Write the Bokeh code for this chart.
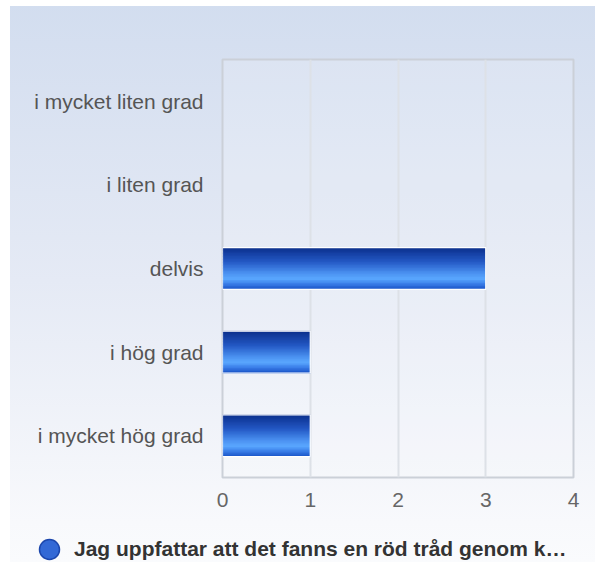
from bokeh.plotting import figure
from bokeh.models import (ColumnDataSource, FactorRange, Range1d, Legend, LegendItem,
                          CDSView, BooleanFilter, FixedTicker)
from bokeh.transform import dodge
from bokeh.embed import file_html
from bokeh.resources import INLINE

# ---- data ----
categories = ["i mycket liten grad", "i liten grad", "delvis", "i hög grad", "i mycket hög grad"]
values = [0, 0, 3, 1, 1]
series_name = "Jag uppfattar att det fanns en röd tråd genom k…"
x_ticks = [0, 1, 2, 3, 4]

factors = list(reversed(categories))
src = ColumnDataSource(dict(cat=categories, val=values))

p = figure(y_range=FactorRange(factors=factors, range_padding=0),
           x_range=Range1d(0, 4),
           frame_width=351, frame_height=418,
           min_border_left=222, min_border_right=22,
           min_border_top=59, min_border_bottom=45,
           output_backend="svg", toolbar_location=None)

p.styles = {"background-image": (
    "linear-gradient(to bottom, #ffffff 0px, #ffffff 6px, rgba(255,255,255,0) 6px), "
    "linear-gradient(to right, #ffffff 0px, #ffffff 10px, rgba(255,255,255,0) 10px), "
    "linear-gradient(to bottom, #d2ddef 0px, #e5eaf5 281px, #f8f9fc 522px)")}
p.border_fill_alpha = 0
p.background_fill_color = "white"
p.background_fill_alpha = 0.15
p.outline_line_color = "#cbd0d8"
p.outline_line_width = 2

# gradient bars via thin strips
stops = [(0.0, (10, 45, 138)), (0.35, (35, 88, 196)), (0.62, (74, 144, 240)),
         (0.76, (90, 168, 255)), (0.88, (58, 125, 232)), (1.0, (26, 85, 200))]

def col_at(t):
    for (t0, c0), (t1, c1) in zip(stops[:-1], stops[1:]):
        if t0 <= t <= t1:
            f = (t - t0) / (t1 - t0) if t1 > t0 else 0
            return "#%02x%02x%02x" % tuple(int(round(a + (b - a) * f)) for a, b in zip(c0, c1))
    return "#%02x%02x%02x" % stops[-1][1]

bar_h = 0.5
n = 28
sh = bar_h / n
for i in range(n):
    t = (i + 0.5) / n
    off = bar_h / 2 - (i + 0.5) * sh
    p.hbar(y=dodge("cat", off, range=p.y_range), left=0, right="val", height=sh * 1.6,
           source=src, fill_color=col_at(t), line_color=None)

view = CDSView(filter=BooleanFilter([v > 0 for v in values]))
p.hbar(y="cat", left=0, right="val", height=bar_h, source=src, view=view,
       fill_color=None, line_color="white", line_width=1.2)

# axes
p.xaxis.ticker = FixedTicker(ticks=x_ticks)
p.xaxis.axis_line_color = None
p.xaxis.major_tick_line_color = None
p.xaxis.minor_tick_line_color = None
p.xaxis.major_tick_out = 0
p.xaxis.major_label_standoff = 15
p.xaxis.major_label_text_font = "Liberation Sans"
p.xaxis.major_label_text_font_size = "21px"
p.xaxis.major_label_text_color = "#666666"

p.yaxis.axis_line_color = None
p.yaxis.major_tick_line_color = None
p.yaxis.major_tick_out = 0
p.yaxis.major_label_standoff = 19
p.yaxis.major_label_text_font = "Liberation Sans"
p.yaxis.major_label_text_font_size = "21px"
p.yaxis.major_label_text_color = "#555555"

p.xgrid.grid_line_color = "#dde1e7"
p.xgrid.grid_line_width = 2
p.ygrid.grid_line_color = None

# ---- legend strip below (separate root, no frame alignment) ----
p2 = figure(width=595, height=40, x_range=Range1d(0, 1), y_range=Range1d(0, 1),
            min_border=0, output_backend="svg", toolbar_location=None,
            x_axis_type=None, y_axis_type=None)
p2.styles = {"background-image": (
    "linear-gradient(to right, #ffffff 0px, #ffffff 10px, rgba(255,255,255,0) 10px), "
    "linear-gradient(to bottom, #f8f9fc 0px, #fafbfd 40px)")}
p2.grid.visible = False
p2.outline_line_color = None
p2.border_fill_alpha = 0
p2.background_fill_alpha = 0

r1 = p2.scatter(x=[-5], y=[-5], marker="circle", size=20,
                fill_color="#3369d6", line_color="#1c47ad", line_width=1.5)
legend = Legend(items=[LegendItem(label=series_name, renderers=[r1])],
                location=(24, -12), orientation="horizontal",
                glyph_width=50, glyph_height=50, label_standoff=0,
                padding=0, margin=0, border_line_color=None, background_fill_alpha=0,
                label_text_font="Liberation Sans", label_text_font_style="bold",
                label_text_font_size="21px", label_text_color="#333333")
p2.add_layout(legend, "center")

open("out.html", "w").write(file_html([p, p2], INLINE))
